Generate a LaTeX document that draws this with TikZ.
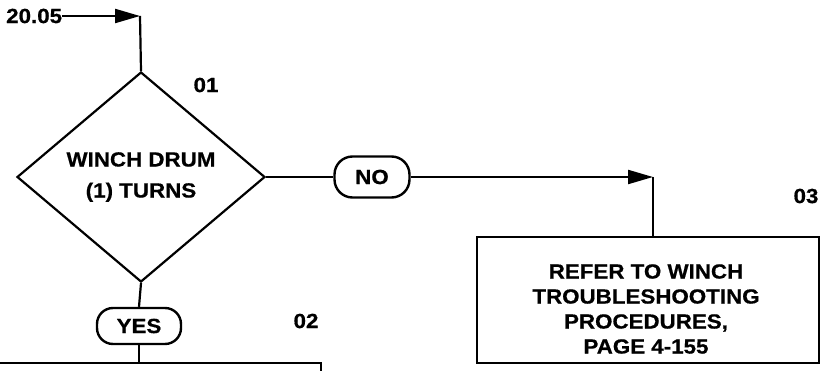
\documentclass[tikz,border=0pt]{standalone}
\usepackage{fontspec}
\setmainfont{Liberation Sans}[FakeStretch=1.09,BoldFeatures={FakeBold=0.6}]
\usetikzlibrary{shapes.geometric,arrows.meta}
\begin{document}
\begin{tikzpicture}[x=1pt,y=-1pt,
  every node/.style={font=\bfseries\fontsize{20.5}{25}\selectfont, inner sep=0pt},
  ln/.style={line width=2.2pt},
  arr/.style={ln,-{Triangle[length=25pt,width=14pt]}},
  pill/.style={draw, line width=2.4pt},
  boxx/.style={draw, line width=2.2pt}]
\useasboundingbox (0,0) rectangle (824,371);
\node[anchor=west] (start) at (6,16) {20.05};
\coordinate (c1) at (140,16);
\node[diamond, draw, line width=2.2pt, minimum width=248pt, minimum height=210pt, align=center,
  font=\bfseries\fontsize{20.5}{31}\selectfont] (d1) at (141,177) {WINCH DRUM\\(1) TURNS};
\node (n01) at (206,85) {01};
\node[pill, rounded corners=16pt, minimum width=84pt, minimum height=36pt] (yes) at (139,326) {YES};
\node (n02) at (306,321) {02};
\node[pill, rounded corners=18pt, minimum width=75pt, minimum height=41pt] (no) at (372,177) {NO};
\coordinate (c2) at (653,177);
\node (n03) at (806,196) {03};
\node[boxx, minimum width=342pt, minimum height=126pt] (b3) at (648,300) {};
\node[align=center] (b3t) at (646,309) {REFER TO WINCH\\TROUBLESHOOTING\\PROCEDURES,\\PAGE 4-155};
\node[boxx, minimum width=330pt, minimum height=30pt, anchor=north east] (b2) at (322,362) {};
\draw[arr] (start.east) -- (c1);
\draw[ln] (c1) -- (d1.north);
\draw[ln] (d1.east) -- (no.west);
\draw[arr] (no.east) -- (c2);
\draw[ln] (c2) -- (c2 |- b3.north);
\draw[ln] (d1.south) -- (yes.north);
\draw[ln] (yes.south) -- (yes.south |- b2.north);
\end{tikzpicture}
\end{document}
